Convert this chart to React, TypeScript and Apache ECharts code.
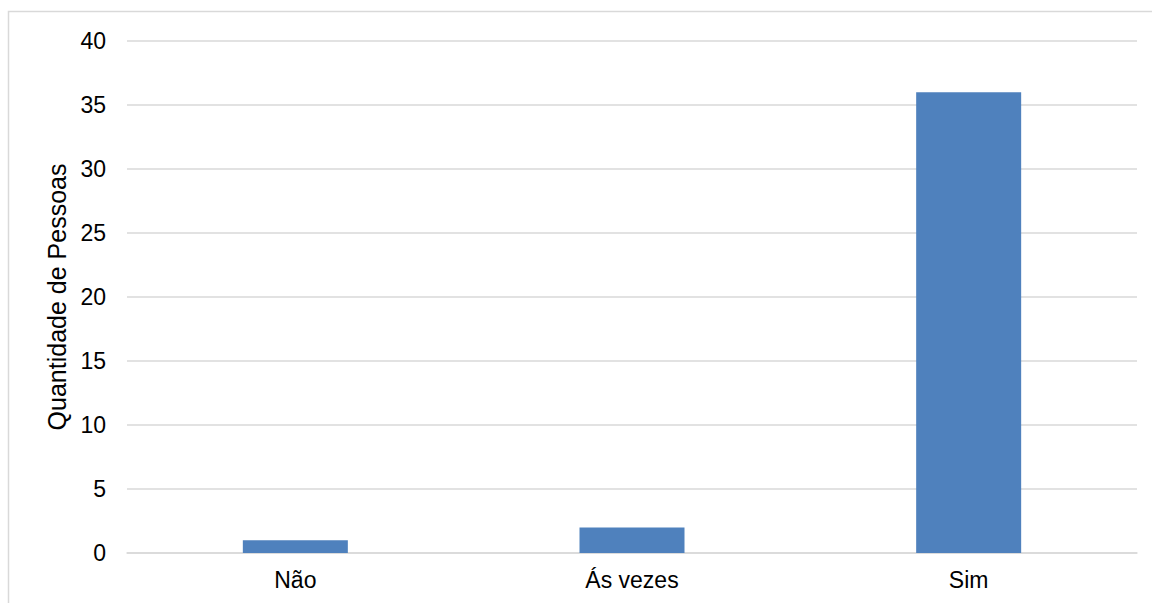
import React, { useEffect, useRef } from "react";
import * as echarts from "echarts";

const categories = ["Não", "Ás vezes", "Sim"];
const values = [1, 2, 36];
const yAxisName = "Quantidade de Pessoas";

export default function App() {
  const ref = useRef<HTMLDivElement>(null);
  useEffect(() => {
    if (!ref.current) return;
    const chart = echarts.init(ref.current, undefined, { renderer: "svg" });
    const font = "Liberation Sans, Arial, sans-serif";
    chart.setOption({
      animation: false,
      backgroundColor: "#ffffff",
      graphic: [
        {
          type: "rect",
          shape: { x: 8.5, y: 11.5, width: 1200, height: 700 },
          style: { fill: "none", stroke: "#d9d9d9", lineWidth: 1.5 },
          silent: true,
          z: -1,
        },
      ],
      grid: { left: 127, right: 15, top: 41, bottom: 50 },
      xAxis: {
        type: "category",
        data: categories,
        axisLine: { show: true, lineStyle: { color: "#d9d9d9", width: 1.5 } },
        axisTick: { show: false },
        axisLabel: {
          color: "#000000",
          fontFamily: font,
          fontSize: 23,
          margin: 15,
        },
      },
      yAxis: {
        type: "value",
        min: 0,
        max: 40,
        interval: 5,
        name: yAxisName,
        nameLocation: "middle",
        nameGap: 54,
        nameTextStyle: {
          color: "#000000",
          fontFamily: font,
          fontSize: 25,
        },
        axisLine: { show: false },
        axisTick: { show: false },
        splitLine: { lineStyle: { color: "#d9d9d9", width: 1.5 } },
        axisLabel: {
          color: "#000000",
          fontFamily: font,
          fontSize: 23,
          margin: 21,
        },
      },
      series: [
        {
          type: "bar",
          data: values,
          barWidth: 105,
          itemStyle: { color: "#4f81bd" },
        },
      ],
    });
    return () => chart.dispose();
  }, []);
  return (
    <div
      ref={ref}
      style={{ position: "absolute", left: 0, top: 0, width: 1152, height: 603 }}
    />
  );
}
